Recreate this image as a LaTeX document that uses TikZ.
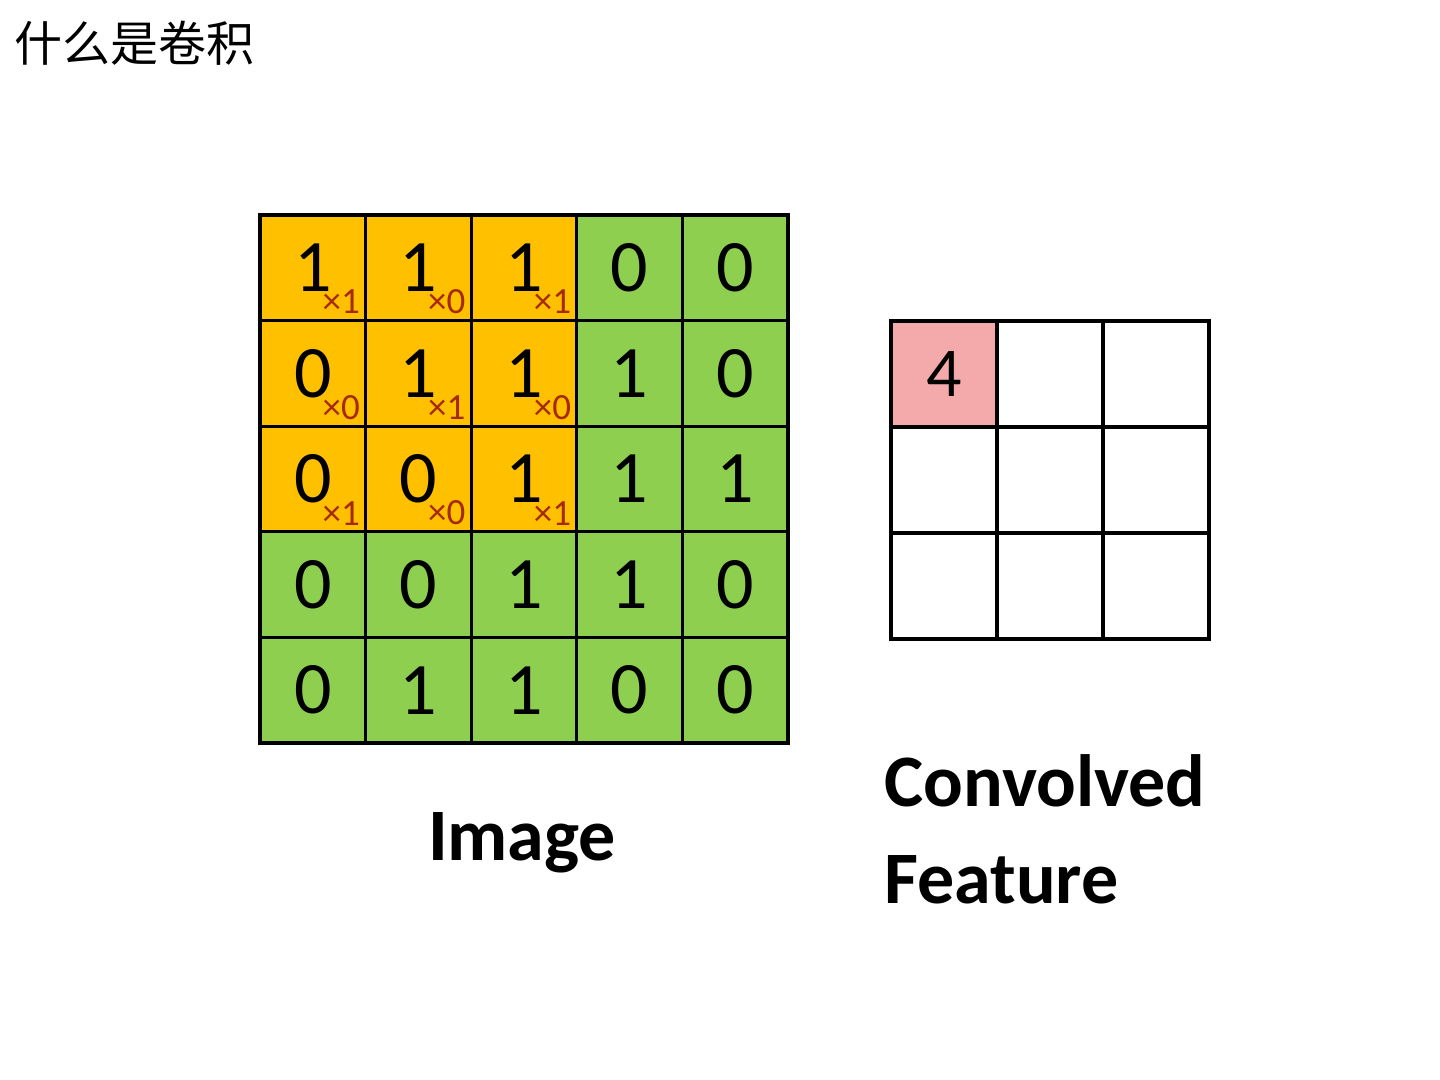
\documentclass[tikz,border=0pt]{standalone}
\usepackage{fontspec}
\setmainfont{Carlito}
\newfontfamily\cjk{Noto Sans CJK SC}
\definecolor{org}{HTML}{FFC000}
\definecolor{grn}{HTML}{8FCF4F}
\definecolor{pnk}{HTML}{F4AAAA}
\definecolor{kred}{HTML}{A62A00}
\begin{document}
\begin{tikzpicture}[x=0.5pt,y=-0.5pt,
  imgcell/.style={draw=black, line width=1.6pt, minimum size=52.8pt, inner sep=0pt, font=\fontsize{37}{40}\selectfont},
  convcell/.style={draw=black, line width=1.6pt, minimum size=53pt, inner sep=0pt, fill=white, font=\fontsize{35}{40}\selectfont},
  kern/.style={anchor=south east, inner sep=0pt, text=kred, font=\fontsize{18.5}{19}\selectfont},
  label/.style={inner sep=0pt, font=\bfseries\fontsize{37}{40}\selectfont}]
\useasboundingbox (0,0) rectangle (1440,1080);
\node[anchor=base west, inner sep=0pt, font=\cjk\fontsize{24}{26}\selectfont] (title) at (14,62) {什么是卷积};
% image grid
\foreach \r/\row in {1/{1,1,1,0,0},2/{0,1,1,1,0},3/{0,0,1,1,1},4/{0,0,1,1,0},5/{0,1,1,0,0}}{
  \foreach \v [count=\c] in \row {
    \pgfmathsetmacro{\isorg}{(\r<4 && \c<4) ? 1 : 0}
    \ifdim\isorg pt>0.5pt
      \node[imgcell, fill=org] (i-\r-\c) at ({260+105.6*(\c-0.5)},{215+105.6*(\r-0.5)}) {\v};
    \else
      \node[imgcell, fill=grn] (i-\r-\c) at ({260+105.6*(\c-0.5)},{215+105.6*(\r-0.5)}) {\v};
    \fi
  }
}
% kernel weights
\foreach \r/\row in {1/{1,0,1},2/{0,1,0},3/{1,0,1}}{
  \foreach \k [count=\c] in \row {
    \node[kern] (k-\r-\c) at ([xshift=-3.5pt,yshift=4pt]i-\r-\c.south east) {×\k};
  }
}
% convolved feature grid
\foreach \r in {1,2,3}{
  \foreach \c in {1,2,3}{
    \node[convcell] (o-\r-\c) at ({891+106*(\c-0.5)},{321+106*(\r-0.5)}) {};
  }
}
\node[convcell, fill=pnk] (o-1-1) at ({891+53},{321+53}) {4};
% labels
\node[label, anchor=base] (imglabel) at (522,860) {Image};
\node[label, anchor=base west] (conv1) at (884,806) {Convolved};
\node[label, anchor=base west] (conv2) at (884,903) {Feature};
\end{tikzpicture}
\end{document}
